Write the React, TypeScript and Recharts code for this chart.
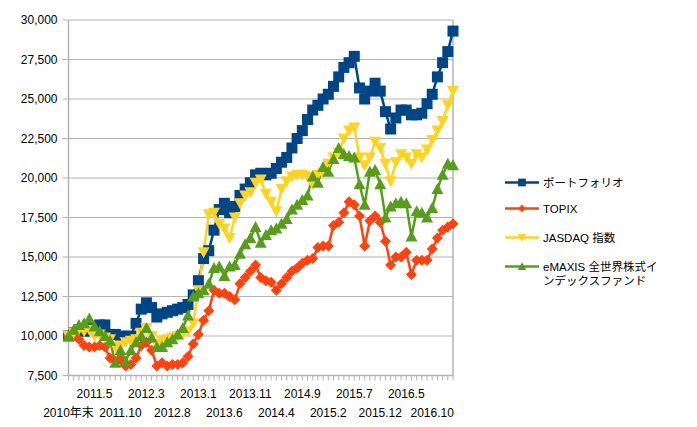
import React from "react";
import { LineChart, Line, XAxis, YAxis, CartesianGrid, ReferenceLine } from "recharts";

const months = [
  "2010年末",
  "2011.1", "2011.2", "2011.3", "2011.4", "2011.5", "2011.6", "2011.7", "2011.8", "2011.9", "2011.10", "2011.11", "2011.12",
  "2012.1", "2012.2", "2012.3", "2012.4", "2012.5", "2012.6", "2012.7", "2012.8", "2012.9", "2012.10", "2012.11", "2012.12",
  "2013.1", "2013.2", "2013.3", "2013.4", "2013.5", "2013.6", "2013.7", "2013.8", "2013.9", "2013.10", "2013.11", "2013.12",
  "2014.1", "2014.2", "2014.3", "2014.4", "2014.5", "2014.6", "2014.7", "2014.8", "2014.9", "2014.10", "2014.11", "2014.12",
  "2015.1", "2015.2", "2015.3", "2015.4", "2015.5", "2015.6", "2015.7", "2015.8", "2015.9", "2015.10", "2015.11", "2015.12",
  "2016.1", "2016.2", "2016.3", "2016.4", "2016.5", "2016.6", "2016.7", "2016.8", "2016.9", "2016.10", "2016.11", "2016.12",
  "2017.1", "2017.2",
];

const portfolio = [
  10000, 10200, 10400, 10300, 10500, 10600, 10700, 10700, 10100, 10100,
  10000, 9900, 10000, 10800, 11700, 12100, 11800, 11200, 11400, 11500,
  11600, 11700, 11800, 12000, 12600, 13500, 14900, 15400, 16700, 18000,
  18400, 17800, 18200, 18900, 19300, 19700, 20200, 20300, 20200, 20300,
  20600, 21000, 21300, 21900, 22500, 23000, 23700, 24300, 24600, 25000,
  25300, 25800, 26400, 27000, 27300, 27700, 25700, 25000, 25500, 26000,
  25500, 24200, 23100, 23800, 24300, 24300, 24000, 24000, 24100, 24700,
  25300, 26400, 27300, 28000, 29300,
];

const topix = [
  10000, 10000, 9800, 9400, 9300, 9300, 9400, 9300, 8600, 8400,
  8500, 8100, 8200, 8600, 9400, 9600, 9100, 8100, 8300, 8100,
  8200, 8200, 8300, 8700, 9500, 10100, 11000, 11600, 12900, 12700,
  12700, 12500, 12300, 13300, 13700, 14100, 14500, 13700, 13500, 13400,
  12900, 13300, 13700, 14100, 14300, 14600, 14800, 14900, 15600, 15700,
  15700, 17000, 17200, 17800, 18500, 18300, 17600, 15700, 17300, 17600,
  17200, 16000, 14500, 15000, 15000, 15300, 13900, 14800, 14800, 14800,
  15500, 16200, 16700, 16900, 17100,
];

const jasdaq = [
  10000, 10200, 10400, 10300, 10400, 10000, 10100, 9900, 9800, 9300,
  9400, 9600, 9700, 9800, 10200, 10500, 10000, 9500, 9700, 9800,
  9900, 10000, 10100, 10300, 10800, 12900, 15300, 17700, 17800, 17100,
  16800, 16200, 17500, 18400, 18900, 19100, 19700, 19900, 19000, 18500,
  17900, 19300, 19800, 20100, 20200, 20200, 20100, 19600, 20200, 20300,
  20900, 21300, 21600, 22500, 23000, 23200, 21300, 20800, 21300, 22300,
  21900, 20900, 19800, 21000, 21500, 21300, 20900, 21500, 21300, 21800,
  22400, 23000, 23600, 24600, 25500,
];

const emaxis = [
  10000, 10400, 10700, 10800, 11100, 10600, 10300, 10000, 9700, 8300,
  9100, 8400, 9100, 9600, 10000, 10500, 9900, 9300, 9300, 9600,
  9800, 10100, 10500, 11300, 12500, 12700, 12900, 13300, 14300, 14400,
  13800, 14400, 14500, 15200, 15800, 16200, 16900, 15900, 16400, 16700,
  16800, 17100, 17400, 18000, 18300, 18600, 18900, 20100, 19700, 20700,
  20400, 21200, 21900, 21500, 21400, 21300, 19600, 18300, 20400, 20500,
  19600, 17500, 18200, 18400, 18500, 18400, 16300, 17900, 17800, 17500,
  18100, 19300, 20200, 20900, 20800,
];

const yTicks = [7500, 10000, 12500, 15000, 17500, 20000, 22500, 25000, 27500, 30000];

const seriesNames = ["ポートフォリオ", "TOPIX", "JASDAQ 指数", "eMAXIS 全世界株式インデックスファンド"];
const seriesColors = ["#004586", "#ff420e", "#ffd320", "#579d1c"];
const seriesKeys = ["p", "t", "j", "e"];
const seriesShapes = ["square", "diamond", "triDown", "triUp"];

const data = months.map((m, i) => ({
  month: m,
  p: portfolio[i],
  t: topix[i],
  j: jasdaq[i],
  e: emaxis[i],
}));

const FONT = "'Liberation Sans', Arial, 'Noto Sans CJK JP', sans-serif";
const GRID = "#b3b3b3";

function Marker({ shape, cx, cy, fill }: { shape: string; cx: number; cy: number; fill: string }) {
  if (cx == null || cy == null) return null;
  if (shape === "square") {
    const s = 11;
    return <rect x={cx - s / 2} y={cy - s / 2} width={s} height={s} fill={fill} />;
  }
  if (shape === "diamond") {
    const r = 5.5;
    return <polygon points={`${cx},${cy - r} ${cx + r},${cy} ${cx},${cy + r} ${cx - r},${cy}`} fill={fill} />;
  }
  if (shape === "triDown") {
    return <polygon points={`${cx - 6},${cy - 5} ${cx + 6},${cy - 5} ${cx},${cy + 6}`} fill={fill} />;
  }
  return <polygon points={`${cx},${cy - 6} ${cx + 6},${cy + 5} ${cx - 6},${cy + 5}`} fill={fill} />;
}

function makeDot(shape: string, fill: string) {
  return (props: any) => (
    <Marker key={`${shape}-${props.index}`} shape={shape} cx={props.cx} cy={props.cy} fill={fill} />
  );
}

function XTick(props: any) {
  const { x, y, payload } = props;
  const idx = months.indexOf(payload.value);
  if (idx < 0 || idx % 5 !== 0) return <g />;
  const lower = (idx / 5) % 2 === 0;
  return (
    <text
      x={x}
      y={y + (lower ? 34 : 15)}
      textAnchor="middle"
      fontSize={12}
      fontFamily={FONT}
      fill="#000"
    >
      {payload.value}
    </text>
  );
}

function LegendBox() {
  const tops = [176, 202, 231, 260];
  return (
    <div style={{ position: "absolute", left: 0, top: 0 }}>
      {seriesNames.map((name, i) => (
        <div
          key={name}
          style={{ position: "absolute", left: 504, top: tops[i], display: "flex", alignItems: "flex-start" }}
        >
          <svg width={36} height={13} style={{ display: "block", marginTop: 0 }}>
            <line x1={1} y1={6.5} x2={35} y2={6.5} stroke={seriesColors[i]} strokeWidth={2.5} />
            <g transform="translate(18,6.5) scale(0.7) translate(-18,-6.5)">
              <Marker shape={seriesShapes[i]} cx={18} cy={6.5} fill={seriesColors[i]} />
            </g>
          </svg>
          <div
            style={{
              marginLeft: 3,
              width: 120,
              fontSize: 11.5,
              lineHeight: "14px",
              fontFamily: FONT,
              color: "#000",
            }}
          >
            {name}
          </div>
        </div>
      ))}
    </div>
  );
}

export default function App() {
  return (
    <div style={{ position: "absolute", left: 0, top: 0, width: 697, height: 427, background: "#fff" }}>
      <LineChart
        width={697}
        height={427}
        data={data}
        margin={{ top: 20, right: 244, bottom: 11.5, left: 8.5 }}
      >
        <CartesianGrid horizontal={true} vertical={false} stroke={GRID} strokeWidth={1} />
        <XAxis
          dataKey="month"
          interval={0}
          height={40}
          tickSize={5}
          tickLine={{ stroke: GRID }}
          axisLine={{ stroke: GRID, strokeWidth: 1.5 }}
          tick={<XTick />}
          padding={{ left: 0, right: 0 }}
        />
        <YAxis
          type="number"
          domain={[7500, 30000]}
          ticks={yTicks}
          interval={0}
          width={60}
          tickSize={6}
          tickMargin={5}
          tickLine={{ stroke: GRID }}
          axisLine={{ stroke: GRID, strokeWidth: 1.5 }}
          tickFormatter={(v: number) => v.toLocaleString("en-US")}
          tick={{ fontSize: 12, fontFamily: FONT, fill: "#000" }}
        />
        <ReferenceLine x={months[months.length - 1]} stroke={GRID} strokeWidth={1.5} />
        {seriesKeys.map((k, i) => (
          <Line
            key={k}
            type="linear"
            dataKey={k}
            name={seriesNames[i]}
            stroke={seriesColors[i]}
            strokeWidth={2.5}
            dot={makeDot(seriesShapes[i], seriesColors[i])}
            activeDot={false}
            isAnimationActive={false}
          />
        ))}
      </LineChart>
      <LegendBox />
    </div>
  );
}
